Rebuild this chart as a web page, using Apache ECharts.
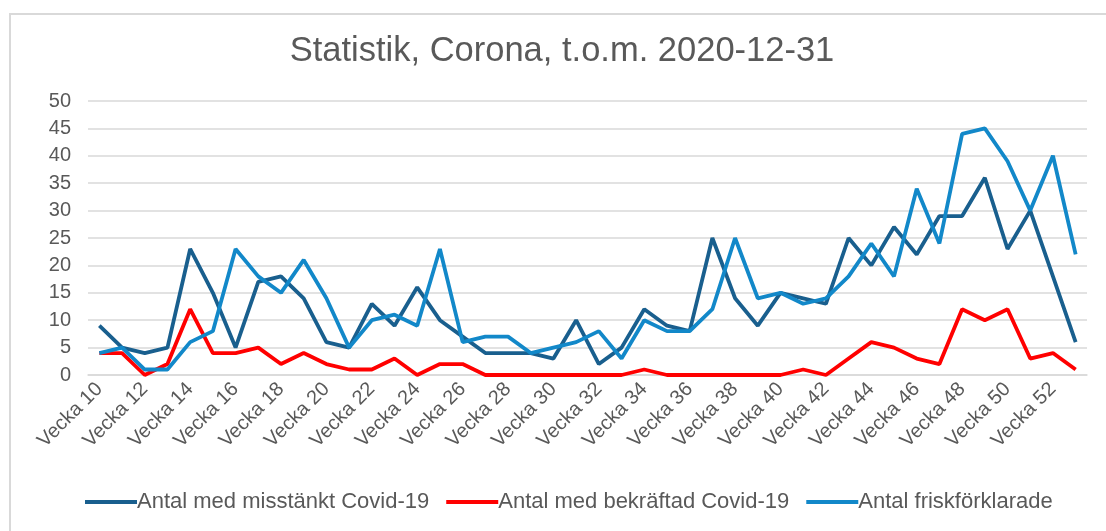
<!DOCTYPE html>
<html>
<head>
<meta charset="utf-8">
<script src="https://cdn.jsdelivr.net/npm/echarts@6/dist/echarts.min.js"></script>
<style>
html,body{margin:0;padding:0;background:#fff;}
#c{width:1106px;height:531px;}
</style>
</head>
<body>
<div id="c"></div>
<script>
const weeks = [10,11,12,13,14,15,16,17,18,19,20,21,22,23,24,25,26,27,28,29,30,31,32,33,34,35,36,37,38,39,40,41,42,43,44,45,46,47,48,49,50,51,52,53];
const categories = weeks.map(w => 'Vecka ' + w);
const seriesNames = ['Antal med misstänkt Covid-19', 'Antal med bekräftad Covid-19', 'Antal friskförklarade'];
const misstankt = [9,5,4,5,23,15,5,17,18,14, 6,5,13,9,16,10,7,4,4,4, 3,10,2,5,12,9,8,25,14,9, 15,14,13,25,20,27,22,29,29,36, 23,30,18,6];
const bekraftad = [4,4,0,2,12,4,4,5,2,4, 2,1,1,3,0,2,2,0,0,0, 0,0,0,0,1,0,0,0,0,0, 0,1,0,3,6,5,3,2,12,10, 12,3,4,1];
const frisk = [4,5,1,1,6,8,23,18,15,21, 14,5,10,11,9,23,6,7,7,4, 5,6,8,3,10,8,8,12,25,14, 15,13,14,18,24,18,34,24,44,45, 39,30,40,22];
const yTicks = {min: 0, max: 50, interval: 5};
const titleText = 'Statistik, Corona, t.o.m. 2020-12-31';

const colors = ['#195f8e', '#ff0000', '#1288c9'];
const textColor = '#595959';
const font = '"Liberation Sans", Arial, sans-serif';

const chart = echarts.init(document.getElementById('c'), null, {renderer: 'canvas'});
const mk = (name, data, color) => ({
  name, type: 'line', data, symbol: 'none', smooth: false,
  lineStyle: {color, width: 3.8}, itemStyle: {color},
  emphasis: {disabled: true}
});
chart.setOption({
  animation: false,
  color: colors,
  title: {
    text: titleText, left: 557, top: 29, textAlign: 'center',
    textStyle: {fontFamily: font, fontSize: 34.5, fontWeight: 'normal', color: textColor}
  },
  graphic: [{
    type: 'rect', silent: true,
    shape: {x: 10, y: 14, width: 1200, height: 600},
    style: {fill: 'none', stroke: '#d9d9d9', lineWidth: 2}
  }],
  legend: {
    data: seriesNames, bottom: 13, left: 80,
    itemWidth: 52, itemHeight: 4, itemGap: 17,
    icon: 'rect',
    textStyle: {fontFamily: font, fontSize: 22, color: textColor, padding: [0,0,0,-5]}
  },
  grid: {left: 88, right: 19, top: 101, bottom: 156, containLabel: false},
  xAxis: {
    type: 'category', data: categories, boundaryGap: true,
    axisLine: {lineStyle: {color: '#d9d9d9', width: 1.5}},
    axisTick: {show: false},
    axisLabel: {interval: 1, rotate: 45, color: textColor, fontFamily: font, fontSize: 20, margin: 11}
  },
  yAxis: {
    type: 'value', min: yTicks.min, max: yTicks.max, interval: yTicks.interval,
    axisLine: {show: false}, axisTick: {show: false},
    splitLine: {lineStyle: {color: '#d9d9d9', width: 1.5}},
    axisLabel: {color: textColor, fontFamily: font, fontSize: 20, margin: 17}
  },
  series: [
    mk(seriesNames[0], misstankt, colors[0]),
    mk(seriesNames[1], bekraftad, colors[1]),
    mk(seriesNames[2], frisk, colors[2])
  ]
});
</script>
</body>
</html>
